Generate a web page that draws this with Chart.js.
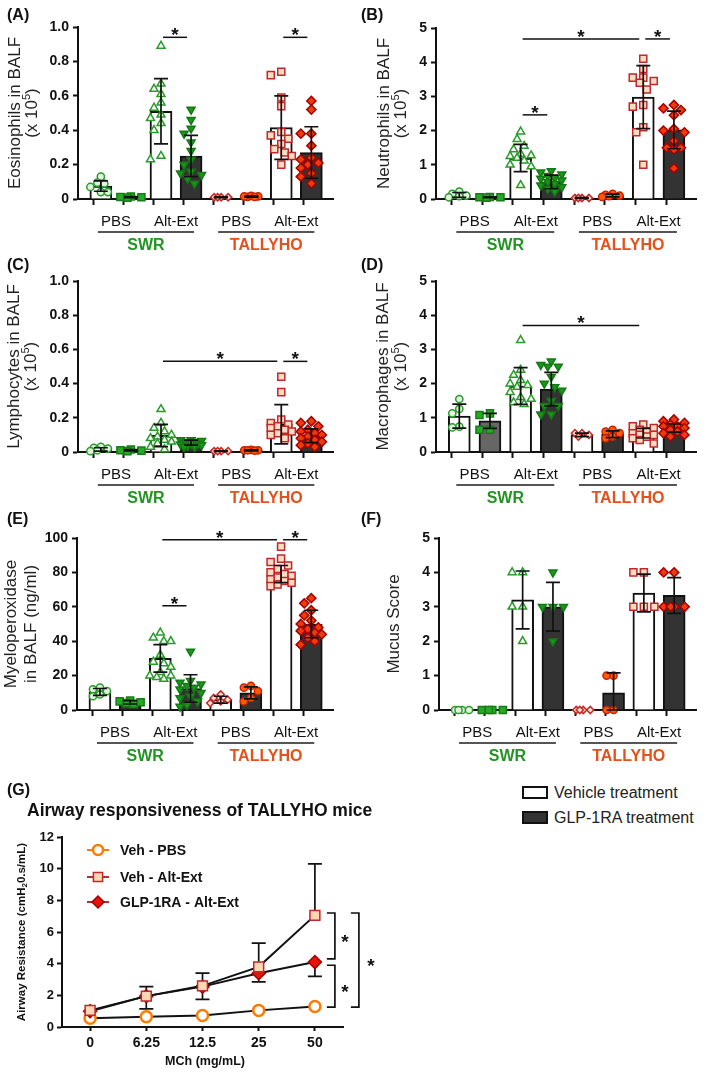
<!DOCTYPE html>
<html>
<head>
<meta charset="utf-8">
<script src="https://cdn.jsdelivr.net/npm/chart.js@4.4.1/dist/chart.umd.min.js"></script>
<style>
  body { margin: 0; background: #fff; width: 709px; height: 1074px; position: relative; overflow: hidden;
         font-family: "Liberation Sans", Arial, sans-serif; }
  canvas { position: absolute; }
  .leg { position: absolute; font-size: 16px; color: #222; height: 16px; line-height: 16px; white-space: nowrap; }
  .leg span { position: absolute; left: 0; top: 1px; width: 22px; height: 9px; border: 2px solid #111; }
  .leg b { position: absolute; left: 32px; top: 0; font-weight: normal; }
</style>
</head>
<body>
<canvas id="cA" width="354" height="255" style="left:0;top:0"></canvas>
<canvas id="cB" width="355" height="255" style="left:354px;top:0"></canvas>
<canvas id="cC" width="354" height="255" style="left:0;top:255px"></canvas>
<canvas id="cD" width="355" height="255" style="left:354px;top:255px"></canvas>
<canvas id="cE" width="354" height="265" style="left:0;top:510px"></canvas>
<canvas id="cF" width="355" height="265" style="left:354px;top:510px"></canvas>
<canvas id="cG" width="400" height="299" style="left:0;top:775px"></canvas>
<div class="leg" style="left:522px;top:785px"><span style="background:#fff"></span><b>Vehicle treatment</b></div>
<div class="leg" style="left:522px;top:810px"><span style="background:#333"></span><b>GLP-1RA treatment</b></div>

<script>
// ---- data ----
const xCatLabels = ['PBS', 'Alt-Ext', 'PBS', 'Alt-Ext'];
const strainLabels = ['SWR', 'TALLYHO'];

// (A) eosinophils
const eosTicks = [0, 0.2, 0.4, 0.6, 0.8, 1.0];
const eosMean = [0.075, 0.011, 0.51, 0.25, 0.01, 0.014, 0.415, 0.27];
const eosSd = [0.03, 0.003, 0.19, 0.12, 0.002, 0.003, 0.185, 0.15];
const eosPts = [
  [0.13, 0.095, 0.09, 0.07, 0.04, 0.04],
  [0.015, 0.012, 0.01, 0.008],
  [0.89, 0.67, 0.64, 0.61, 0.56, 0.53, 0.49, 0.47, 0.44, 0.40, 0.25, 0.23],
  [0.52, 0.46, 0.41, 0.38, 0.33, 0.28, 0.23, 0.2, 0.16, 0.15, 0.14, 0.12, 0.09],
  [0.01, 0.01, 0.01, 0.01],
  [0.012, 0.015, 0.018, 0.015, 0.012],
  [0.74, 0.72, 0.59, 0.54, 0.39, 0.37, 0.35, 0.32, 0.29, 0.27, 0.25, 0.20],
  [0.57, 0.52, 0.38, 0.38, 0.31, 0.24, 0.23, 0.21, 0.20, 0.18, 0.15, 0.13, 0.09]
];
const eosSig = [[2, 3, 0.94], [6, 7, 0.94]];

// (B) neutrophils
const neuTicks = [0, 1, 2, 3, 4, 5];
const neuMean = [0.12, 0.05, 1.2, 0.5, 0.03, 0.1, 2.98, 2.02];
const neuSd = [0.07, 0.01, 0.4, 0.2, 0.01, 0.04, 0.92, 0.55];
const neuPts = [
  [0.22, 0.15, 0.1, 0.08, 0.05],
  [0.06, 0.05, 0.05, 0.04],
  [1.97, 1.75, 1.55, 1.45, 1.32, 1.27, 1.25, 1.2, 1.12, 1.0, 0.95, 0.4],
  [0.82, 0.78, 0.72, 0.68, 0.62, 0.6, 0.55, 0.5, 0.45, 0.4, 0.35, 0.3, 0.22],
  [0.03, 0.03, 0.03, 0.03],
  [0.15, 0.12, 0.1, 0.08, 0.06],
  [4.1, 3.8, 3.55, 3.55, 3.45, 3.4, 3.2, 2.75, 2.7, 2.1, 1.95, 1.0],
  [2.75, 2.65, 2.6, 2.45, 2.05, 2.0, 1.95, 1.7, 1.5, 1.5, 1.45, 0.9]
];
const neuSig = [[2, 3, 2.46], [2, 6, 4.68], [6, 7, 4.68]];

// (C) lymphocytes
const lymTicks = [0, 0.2, 0.4, 0.6, 0.8, 1.0];
const lymMean = [0.015, 0.01, 0.097, 0.055, 0.005, 0.01, 0.162, 0.095];
const lymSd = [0.01, 0.004, 0.065, 0.015, 0.002, 0.003, 0.115, 0.04];
const lymPts = [
  [0.03, 0.025, 0.02, 0.01, 0.005],
  [0.015, 0.01, 0.008, 0.005],
  [0.25, 0.17, 0.14, 0.12, 0.1, 0.09, 0.08, 0.07, 0.06, 0.05, 0.03, 0.015],
  [0.07, 0.07, 0.065, 0.06, 0.06, 0.055, 0.05, 0.05, 0.045, 0.04, 0.035, 0.03, 0.03],
  [0.005, 0.005, 0.005, 0.005],
  [0.012, 0.01, 0.01, 0.008, 0.01],
  [0.44, 0.35, 0.19, 0.17, 0.16, 0.15, 0.14, 0.13, 0.12, 0.11, 0.1, 0.08],
  [0.18, 0.17, 0.15, 0.13, 0.12, 0.11, 0.1, 0.09, 0.08, 0.07, 0.06, 0.05, 0.04, 0.03]
];
const lymSig = [[2, 6, 0.53], [6, 7, 0.53]];

// (D) macrophages
const macTicks = [0, 1, 2, 3, 4, 5];
const macMean = [1.05, 0.91, 1.93, 1.84, 0.5, 0.52, 0.55, 0.7];
const macSd = [0.35, 0.22, 0.54, 0.49, 0.05, 0.1, 0.14, 0.12];
const macPts = [
  [1.55, 1.26, 1.13, 0.74, 0.72],
  [1.13, 1.08, 0.65, 0.65],
  [3.27, 2.4, 2.25, 2.1, 2.0, 1.95, 1.9, 1.75, 1.6, 1.55, 1.45, 1.4],
  [2.65, 2.55, 2.5, 2.5, 2.2, 2.0, 1.9, 1.8, 1.5, 1.35, 1.35, 1.1, 1.1],
  [0.55, 0.55, 0.5, 0.45],
  [0.65, 0.6, 0.55, 0.45, 0.4],
  [0.8, 0.75, 0.7, 0.65, 0.6, 0.55, 0.5, 0.5, 0.45, 0.4, 0.35, 0.25],
  [0.95, 0.9, 0.85, 0.8, 0.75, 0.75, 0.7, 0.65, 0.6, 0.55, 0.5, 0.45]
];
const macSig = [[2, 6, 3.7]];

// (E) myeloperoxidase
const mpoTicks = [0, 20, 40, 60, 80, 100];
const mpoMean = [10.5, 4.5, 30, 12.5, 6, 10, 79, 50];
const mpoSd = [2, 1, 8, 8, 2, 3.5, 5, 8];
const mpoPts = [
  [13, 12, 11, 9, 8],
  [5.5, 5, 4.5, 4, 3.5],
  [45, 42, 40, 40, 32, 28, 27, 25, 22, 20, 20, 19, 18],
  [34, 17, 16, 15, 14, 13, 12, 10, 8, 7, 5, 3, 2],
  [9, 7, 6, 5, 4],
  [14, 13, 11, 7, 5],
  [95, 88, 86, 84, 82, 80, 79, 78, 77, 76, 75, 74, 73, 72],
  [65, 62, 58, 55, 52, 50, 48, 47, 46, 45, 44, 42, 40, 38]
];
const mpoSig = [[2, 3, 60.6], [2, 6, 99], [6, 7, 99]];

// (F) mucus score
const mucTicks = [0, 1, 2, 3, 4, 5];
const mucMean = [0, 0, 3.2, 3.0, 0, 0.5, 3.4, 3.33];
const mucSd = [0, 0, 0.84, 0.71, 0, 0.58, 0.55, 0.52];
const mucPts = [
  [0, 0, 0, 0],
  [0, 0, 0, 0],
  [4, 4, 3, 3, 2],
  [4, 3, 3, 3, 2],
  [0, 0, 0, 0],
  [1, 1, 0, 0],
  [4, 4, 3, 3, 3],
  [4, 4, 3, 3, 3, 3]
];
const mucSig = [];

// (G) airway resistance
const mchLabels = ['0', '6.25', '12.5', '25', '50'];
const resTicks = [0, 2, 4, 6, 8, 10, 12];
const vehPbs = [0.55, 0.65, 0.72, 1.05, 1.3];
const vehAlt = [1.05, 1.95, 2.6, 3.8, 7.05];
const vehAltSd = [0, 0.6, 0.8, 1.5, 3.25];
const glpAlt = [1.0, 1.95, 2.55, 3.4, 4.1];
const glpAltSd = [0, 0.8, 0.8, 0.55, 0.9];

// ---- drawing ----
const FONT = '"Liberation Sans", Arial, sans-serif';
Chart.defaults.font.family = FONT;
Chart.defaults.color = '#111';

const VEH = '#ffffff', GLP = '#333333';
const ptStyles = [
  { s: 'circle', r: 3.6, bg: '#dff3df', bc: '#2a9a2a' },
  { s: 'rect', r: 5, bg: '#27a827', bc: '#167d16' },
  { s: 'triangle', r: 4.6, bg: '#ffffff', bc: '#2a9a2a' },
  { s: 'triangle', r: 4.6, bg: '#1c951c', bc: '#137a13', rot: 180 },
  { s: 'rectRot', r: 3.6, bg: '#fde3d0', bc: '#c62828' },
  { s: 'circle', r: 3.6, bg: '#ff5a0a', bc: '#c42400' },
  { s: 'rect', r: 5, bg: '#fcdcc3', bc: '#c0282b' },
  { s: 'rectRot', r: 4.6, bg: '#ec3b0c', bc: '#a80000' }
];
const strainColors = ['#239323', '#e5501c'];
const X_MIN = -0.76, X_MAX = 7.72;

// spread points sideways inside the column, allowing some overlap
function swarm(vals, minDist, pxPerUnit) {
  const placed = [];
  const offs = new Array(vals.length).fill(0);
  const order = vals.map((v, i) => i).sort((a, b) => vals[b] - vals[a]);
  const cands = [0, -3.5, 3.5, -7, 7, -10.5, 10.5];
  order.forEach(i => {
    const py = vals[i] * pxPerUnit;
    let best = 0, bestD = -1;
    for (const c of cands) {
      const d = placed.length ? Math.min(...placed.map(p => Math.hypot(p[0] - c, p[1] - py))) : 99;
      if (d >= minDist) { best = c; bestD = d; break; }
      if (d > bestD) { best = c; bestD = d; }
    }
    offs[i] = best;
    placed.push([best, py]);
  });
  return offs;
}

function drawYTitle(ctx, lines, cy) {
  lines.forEach(l => {
    ctx.save();
    ctx.translate(l.x, cy);
    ctx.rotate(-Math.PI / 2);
    ctx.fillStyle = '#222';
    ctx.textBaseline = 'middle';
    const big = '17px ' + FONT, small = '11px ' + FONT;
    ctx.font = big;
    const w1 = ctx.measureText(l.t).width;
    const w3 = l.tail ? ctx.measureText(l.tail).width : 0;
    ctx.font = small;
    const w2 = l.sup ? ctx.measureText(l.sup).width : 0;
    let x0 = -(w1 + w2 + w3) / 2;
    ctx.textAlign = 'left';
    ctx.font = big; ctx.fillText(l.t, x0, 0);
    if (l.sup) { ctx.font = small; ctx.fillText(l.sup, x0 + w1, -5); }
    if (l.tail) { ctx.font = big; ctx.fillText(l.tail, x0 + w1 + w2, 0); }
    ctx.restore();
  });
}

function makeBarPanel(c) {
  const a = c.area;
  const yMax = c.yTicks[c.yTicks.length - 1];
  const pxPerUnit = (a.bottom - a.top) / yMax;
  const pxPerCat = (a.right - a.left) / (X_MAX - X_MIN);
  const xTickVals = [];
  for (let v = 0; v <= 7; v += 0.5) xTickVals.push(v);

  const datasets = c.pts.map((vals, i) => {
    const st = ptStyles[i];
    const offs = swarm(vals, st.r * 1.5 + 1, pxPerUnit);
    return {
      type: 'scatter',
      data: vals.map((v, k) => ({ x: i + offs[k] / pxPerCat, y: v })),
      pointStyle: st.s, pointRadius: st.r, pointRotation: st.rot || 0,
      pointBackgroundColor: st.bg, pointBorderColor: st.bc, pointBorderWidth: 1.5,
      order: 1, clip: false
    };
  });
  datasets.push({
    type: 'bar',
    data: c.mean.map((m, i) => ({ x: i, y: m })),
    backgroundColor: c.bars, borderColor: '#111', borderWidth: 2,
    borderSkipped: 'start', barThickness: 22, order: 2
  });

  const deco = {
    id: 'deco' + c.id,
    afterDatasetsDraw(chart) {
      const { ctx, scales: { x, y } } = chart;
      ctx.save();
      ctx.strokeStyle = '#111'; ctx.lineWidth = 1.7;
      c.mean.forEach((m, i) => {
        const s = c.sd[i];
        if (!s) return;
        const px = x.getPixelForValue(i);
        const t = y.getPixelForValue(m + s), b = y.getPixelForValue(Math.max(m - s, 0));
        ctx.beginPath();
        ctx.moveTo(px, t); ctx.lineTo(px, b);
        ctx.moveTo(px - 7, t); ctx.lineTo(px + 7, t);
        ctx.moveTo(px - 7, b); ctx.lineTo(px + 7, b);
        ctx.stroke();
      });
      ctx.restore();
    },
    afterDraw(chart) {
      const { ctx, chartArea: ca, scales: { x, y } } = chart;
      ctx.save();
      // panel letter
      ctx.fillStyle = '#111';
      ctx.font = 'bold 16px ' + FONT;
      ctx.textAlign = 'left'; ctx.textBaseline = 'alphabetic';
      ctx.fillText(c.letter, 7, c.letterY);
      // y title
      drawYTitle(ctx, c.titles, (ca.top + ca.bottom) / 2);
      // strain groups
      strainLabels.forEach((s, k) => {
        const x1 = x.getPixelForValue(4 * k) - 3, x2 = x.getPixelForValue(4 * k + 3) + 3;
        const ly = ca.bottom + 33;
        ctx.strokeStyle = '#555'; ctx.lineWidth = 2;
        ctx.beginPath(); ctx.moveTo(x1, ly); ctx.lineTo(x2, ly); ctx.stroke();
        ctx.fillStyle = strainColors[k];
        ctx.font = 'bold 16px ' + FONT;
        ctx.textAlign = 'center'; ctx.textBaseline = 'middle';
        ctx.fillText(s, (x1 + x2) / 2, ca.bottom + 47);
      });
      // significance
      c.sig.forEach(([i, j, v]) => {
        const x1 = x.getPixelForValue(i) + 2, x2 = x.getPixelForValue(j) - 4;
        const ly = y.getPixelForValue(v);
        ctx.strokeStyle = '#111'; ctx.lineWidth = 1.5;
        ctx.beginPath(); ctx.moveTo(x1, ly); ctx.lineTo(x2, ly); ctx.stroke();
        ctx.fillStyle = '#111';
        ctx.font = 'bold 19px ' + FONT;
        ctx.textAlign = 'center'; ctx.textBaseline = 'alphabetic';
        ctx.fillText('*', (x1 + x2) / 2, ly + 4);
      });
      ctx.restore();
    }
  };

  new Chart(document.getElementById(c.id), {
    type: 'bar',
    data: { datasets },
    options: {
      responsive: false, animation: false, events: [],
      layout: { padding: { left: 0, right: c.w - a.right, top: a.top, bottom: 0 } },
      plugins: { legend: { display: false }, tooltip: { enabled: false } },
      scales: {
        x: {
          type: 'linear', min: X_MIN, max: X_MAX, offset: false,
          afterBuildTicks: s => { s.ticks = xTickVals.map(v => ({ value: v })); },
          afterFit: s => { s.height = c.h - a.bottom; },
          ticks: {
            autoSkip: false, maxRotation: 0, padding: 8, color: '#111',
            font: { size: 15 },
            callback: v => { const k = (v - 0.5) / 2; return Number.isInteger(k) ? xCatLabels[k] : ''; }
          },
          grid: {
            drawOnChartArea: false, tickLength: 6, tickWidth: 2,
            tickColor: ctx => Number.isInteger(ctx.tick && ctx.tick.value) ? '#111' : 'rgba(0,0,0,0)'
          },
          border: { color: '#111', width: 2 }
        },
        y: {
          min: 0, max: yMax,
          afterBuildTicks: s => { s.ticks = c.yTicks.map(v => ({ value: v })); },
          afterFit: s => { s.width = a.left; },
          ticks: {
            padding: 4, color: '#111', font: { size: 14, weight: 'bold' },
            callback: v => v === 0 ? '0' : v.toFixed(c.dec)
          },
          grid: { drawOnChartArea: false, tickLength: 5, tickWidth: 2, color: '#111' },
          border: { color: '#111', width: 2 }
        }
      }
    },
    plugins: [deco]
  });
}

const fills = [VEH, GLP, VEH, GLP, VEH, GLP, VEH, GLP];
const fillsD = [VEH, '#666666', VEH, GLP, VEH, GLP, VEH, GLP];
const sup5 = { sup: '5', tail: ')' };

makeBarPanel({ id: 'cA', w: 354, h: 255, area: { left: 78, right: 333, top: 27, bottom: 199 },
  mean: eosMean, sd: eosSd, pts: eosPts, sig: eosSig, yTicks: eosTicks, dec: 1, bars: fills,
  letter: '(A)', letterY: 20,
  titles: [{ t: 'Eosinophils in BALF', x: 15 }, Object.assign({ t: '(x 10', x: 32 }, sup5)] });

makeBarPanel({ id: 'cB', w: 355, h: 255, area: { left: 82, right: 342, top: 28, bottom: 199 },
  mean: neuMean, sd: neuSd, pts: neuPts, sig: neuSig, yTicks: neuTicks, dec: 0, bars: fills,
  letter: '(B)', letterY: 20,
  titles: [{ t: 'Neutrophils in BALF', x: 30 }, Object.assign({ t: '(x 10', x: 47 }, sup5)] });

makeBarPanel({ id: 'cC', w: 354, h: 255, area: { left: 78, right: 333, top: 26, bottom: 197 },
  mean: lymMean, sd: lymSd, pts: lymPts, sig: lymSig, yTicks: lymTicks, dec: 1, bars: fills,
  letter: '(C)', letterY: 15,
  titles: [{ t: 'Lymphocytes in BALF', x: 14 }, Object.assign({ t: '(x 10', x: 31 }, sup5)] });

makeBarPanel({ id: 'cD', w: 355, h: 255, area: { left: 82, right: 342, top: 26, bottom: 197 },
  mean: macMean, sd: macSd, pts: macPts, sig: macSig, yTicks: macTicks, dec: 0, bars: fillsD,
  letter: '(D)', letterY: 15,
  titles: [{ t: 'Macrophages in BALF', x: 29 }, Object.assign({ t: '(x 10', x: 47 }, sup5)] });

makeBarPanel({ id: 'cE', w: 354, h: 265, area: { left: 77, right: 333, top: 28, bottom: 200 },
  mean: mpoMean, sd: mpoSd, pts: mpoPts, sig: mpoSig, yTicks: mpoTicks, dec: 0, bars: fills,
  letter: '(E)', letterY: 14,
  titles: [{ t: 'Myeloperoxidase', x: 11 }, { t: 'in BALF (ng/ml)', x: 31 }] });

makeBarPanel({ id: 'cF', w: 355, h: 265, area: { left: 85, right: 342, top: 28, bottom: 200 },
  mean: mucMean, sd: mucSd, pts: mucPts, sig: mucSig, yTicks: mucTicks, dec: 0, bars: fills,
  letter: '(F)', letterY: 14,
  titles: [{ t: 'Mucus Score', x: 40 }] });

// ---- panel G ----
const gSeries = [
  { label: 'Veh - Alt-Ext', data: vehAlt, s: 'rect', r: 7, bg: '#fcd7b6', bc: '#c0282b', bw: 1.5, lc: '#b0302b' },
  { label: 'GLP-1RA - Alt-Ext', data: glpAlt, s: 'rectRot', r: 6.5, bg: '#e5140a', bc: '#a40000', bw: 1.5, lc: '#b0302b' },
  { label: 'Veh - PBS', data: vehPbs, s: 'circle', r: 5.5, bg: '#ffffff', bc: '#ff7b00', bw: 2.5, lc: '#ff7b00' }
];
const GA = { left: 62, right: 343, top: 62, bottom: 252 };

const gDeco = {
  id: 'gDeco',
  beforeDatasetsDraw(chart) {
    const { ctx, scales: { x, y } } = chart;
    ctx.save();
    ctx.strokeStyle = '#111'; ctx.lineWidth = 1.7;
    const bar = (i, v, e) => {
      if (!e) return;
      const px = x.getPixelForValue(i);
      const y0 = y.getPixelForValue(v), y1 = y.getPixelForValue(v + e);
      ctx.beginPath();
      ctx.moveTo(px, y0); ctx.lineTo(px, y1);
      ctx.moveTo(px - 7, y1); ctx.lineTo(px + 7, y1);
      ctx.stroke();
    };
    vehAlt.forEach((v, i) => bar(i, v, vehAltSd[i]));
    glpAlt.forEach((v, i) => bar(i, v, -glpAltSd[i]));
    ctx.restore();
  },
  afterDraw(chart) {
    const { ctx, chartArea: ca, scales: { x, y } } = chart;
    const H = Chart.helpers;
    ctx.save();
    ctx.fillStyle = '#111';
    ctx.textAlign = 'left'; ctx.textBaseline = 'alphabetic';
    ctx.font = 'bold 16px ' + FONT;
    ctx.fillText('(G)', 7, 20);
    ctx.font = 'bold 17.5px ' + FONT;
    ctx.fillText('Airway responsiveness of TALLYHO mice', 27, 41);

    // y title with subscript
    ctx.save();
    ctx.translate(22, (ca.top + ca.bottom) / 2);
    ctx.rotate(-Math.PI / 2);
    ctx.textBaseline = 'middle';
    const p1 = 'Airway Resistance (cmH', p2 = '2', p3 = '0.s/mL)';
    ctx.font = 'bold 11.5px ' + FONT;
    const w1 = ctx.measureText(p1).width, w3 = ctx.measureText(p3).width;
    ctx.font = 'bold 8px ' + FONT;
    const w2 = ctx.measureText(p2).width;
    let x0 = -(w1 + w2 + w3) / 2;
    ctx.font = 'bold 11.5px ' + FONT; ctx.fillText(p1, x0, 0);
    ctx.font = 'bold 8px ' + FONT; ctx.fillText(p2, x0 + w1, 3);
    ctx.font = 'bold 11.5px ' + FONT; ctx.fillText(p3, x0 + w1 + w2, 0);
    ctx.restore();

    // x title
    ctx.font = 'bold 12.5px ' + FONT;
    ctx.textAlign = 'center'; ctx.textBaseline = 'middle';
    ctx.fillText('MCh (mg/mL)', 205, 287);

    // legend inside plot
    const legOrder = [gSeries[2], gSeries[0], gSeries[1]];
    const legY = [75, 102, 127];
    legOrder.forEach((s, k) => {
      const cy = legY[k];
      ctx.strokeStyle = s.lc; ctx.lineWidth = 2;
      ctx.beginPath(); ctx.moveTo(87, cy); ctx.lineTo(109, cy); ctx.stroke();
      ctx.fillStyle = s.bg; ctx.strokeStyle = s.bc; ctx.lineWidth = s.bw;
      H.drawPoint(ctx, { pointStyle: s.s, radius: s.r - 0.5, rotation: 0, borderWidth: s.bw }, 98, cy);
      ctx.fillStyle = '#111';
      ctx.font = 'bold 14px ' + FONT;
      ctx.textAlign = 'left'; ctx.textBaseline = 'middle';
      ctx.fillText(s.label, 120, cy + 1);
    });

    // significance brackets
    const xl = x.getPixelForValue(mchLabels.length - 1);
    const bx = xl + 20, ox = xl + 44;
    const bracket = (xx, v1, v2, arm) => {
      const y1 = y.getPixelForValue(v1), y2 = y.getPixelForValue(v2);
      ctx.strokeStyle = '#111'; ctx.lineWidth = 1.7;
      ctx.beginPath();
      ctx.moveTo(xx - arm, y1); ctx.lineTo(xx, y1); ctx.lineTo(xx, y2); ctx.lineTo(xx - arm, y2);
      ctx.stroke();
      return (y1 + y2) / 2;
    };
    ctx.fillStyle = '#111';
    ctx.font = 'bold 19px ' + FONT;
    ctx.textAlign = 'center'; ctx.textBaseline = 'alphabetic';
    let m = bracket(bx, 7.2, 4.3, 8); ctx.fillText('*', bx + 10, m + 12);
    m = bracket(bx, 3.9, 1.26, 8); ctx.fillText('*', bx + 10, m + 12);
    m = bracket(ox, 7.2, 1.26, 8); ctx.fillText('*', ox + 12, m + 12);
    ctx.restore();
  }
};

new Chart(document.getElementById('cG'), {
  type: 'line',
  data: {
    labels: mchLabels,
    datasets: gSeries.map(s => ({
      label: s.label, data: s.data,
      borderColor: '#111', borderWidth: 2, fill: false, tension: 0,
      pointStyle: s.s, pointRadius: s.r, pointBackgroundColor: s.bg,
      pointBorderColor: s.bc, pointBorderWidth: s.bw, clip: false
    }))
  },
  options: {
    responsive: false, animation: false, events: [],
    layout: { padding: { left: 0, right: 400 - GA.right, top: GA.top, bottom: 0 } },
    plugins: { legend: { display: false }, tooltip: { enabled: false } },
    scales: {
      x: {
        offset: true,
        afterFit: s => { s.height = 299 - GA.bottom; },
        ticks: { color: '#111', font: { size: 14, weight: 'bold' }, padding: 4, maxRotation: 0 },
        grid: { drawOnChartArea: false, offset: false, tickLength: 4, tickWidth: 2, color: '#111' },
        border: { color: '#111', width: 2 }
      },
      y: {
        min: 0, max: 12,
        afterBuildTicks: s => { s.ticks = resTicks.map(v => ({ value: v })); },
        afterFit: s => { s.width = GA.left; },
        ticks: { color: '#111', font: { size: 13, weight: 'bold' }, padding: 3 },
        grid: { drawOnChartArea: false, tickLength: 5, tickWidth: 2, color: '#111' },
        border: { color: '#111', width: 2 }
      }
    }
  },
  plugins: [gDeco]
});
</script>
</body>
</html>
